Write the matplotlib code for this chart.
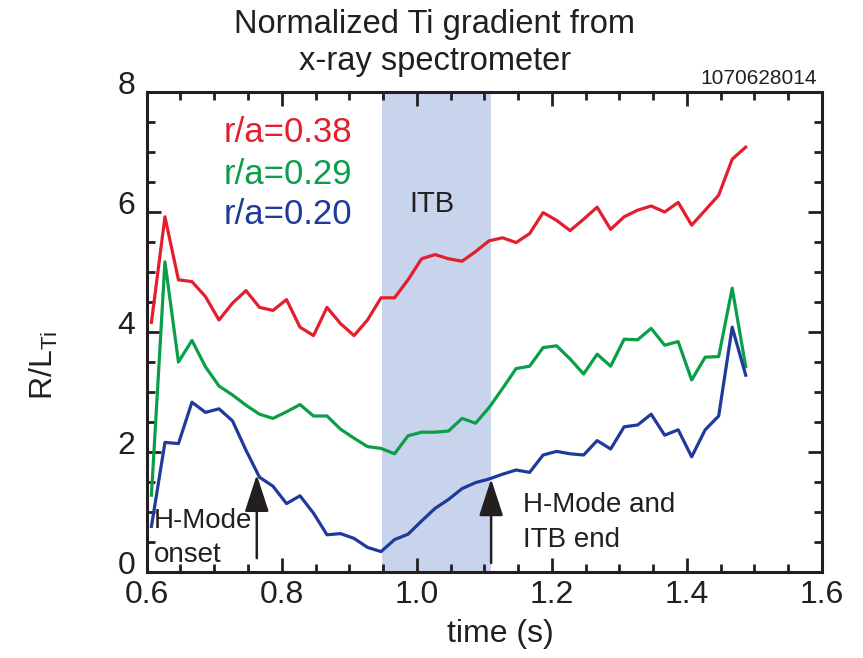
import matplotlib
matplotlib.use("Agg")
import matplotlib.pyplot as plt
from matplotlib.ticker import MultipleLocator, FormatStrFormatter
from matplotlib.transforms import ScaledTranslation

plt.rcParams['font.family'] = ['Liberation Sans', 'DejaVu Sans']
plt.rcParams['mathtext.fontset'] = 'custom'
plt.rcParams['mathtext.rm'] = 'Liberation Sans'

# time samples (s)
time = [0.607, 0.627, 0.647, 0.667, 0.687, 0.707, 0.727, 0.747, 0.767, 0.787,
        0.807, 0.827, 0.847, 0.867, 0.887, 0.907, 0.927, 0.947, 0.967, 0.987,
        1.007, 1.027, 1.047, 1.067, 1.087, 1.107, 1.127, 1.147, 1.167, 1.187,
        1.207, 1.227, 1.247, 1.267, 1.287, 1.307, 1.327, 1.347, 1.367, 1.387,
        1.407, 1.427, 1.447, 1.467, 1.487]

r038 = [4.16, 5.92, 4.87, 4.84, 4.59, 4.20, 4.48, 4.69, 4.41, 4.36,
        4.54, 4.08, 3.94, 4.41, 4.14, 3.94, 4.20, 4.57, 4.57, 4.87,
        5.22, 5.29, 5.22, 5.18, 5.34, 5.52, 5.57, 5.49, 5.64, 5.99,
        5.86, 5.69, 5.88, 6.08, 5.71, 5.92, 6.03, 6.10, 6.00, 6.16,
        5.78, 6.03, 6.28, 6.88, 7.08]

r029 = [1.28, 5.17, 3.50, 3.86, 3.42, 3.10, 2.95, 2.78, 2.63, 2.56,
        2.67, 2.79, 2.60, 2.60, 2.38, 2.23, 2.09, 2.06, 1.97, 2.27,
        2.33, 2.33, 2.35, 2.56, 2.48, 2.74, 3.06, 3.39, 3.43, 3.74,
        3.77, 3.55, 3.30, 3.63, 3.43, 3.88, 3.87, 4.06, 3.78, 3.84,
        3.20, 3.58, 3.59, 4.73, 3.42]

r020 = [0.76, 2.16, 2.14, 2.83, 2.66, 2.72, 2.52, 2.03, 1.58, 1.43,
        1.14, 1.27, 0.98, 0.62, 0.64, 0.56, 0.41, 0.34, 0.54, 0.63,
        0.85, 1.06, 1.21, 1.39, 1.49, 1.55, 1.63, 1.70, 1.66, 1.95,
        2.01, 1.97, 1.95, 2.19, 2.05, 2.42, 2.45, 2.63, 2.28, 2.37,
        1.92, 2.37, 2.60, 4.08, 3.28]

x_ticks = [0.6, 0.8, 1.0, 1.2, 1.4, 1.6]
y_ticks = [0, 2, 4, 6, 8]

itb_span = [0.948, 1.110]
arrow_times = [0.763, 1.110]
arrow_ranges = [(0.23, 1.62), (0.15, 1.55)]

red = '#E31E2D'
green = '#0A9E48'
blue = '#1F3A9A'
ink = '#231F20'

fig = plt.figure(figsize=(8.63, 6.58), dpi=100)
ax = fig.add_axes([0.170, 0.1307, 0.7825, 0.7295])

ax.axvspan(itb_span[0], itb_span[1], color='#C8D3EC', lw=0, zorder=0)
ax.plot(time, r038, color=red, lw=2.3, zorder=3)
ax.plot(time, r029, color=green, lw=2.3, zorder=3)
ax.plot(time, r020, color=blue, lw=2.3, zorder=3)

ax.set_xlim(0.6, 1.6)
ax.set_ylim(0, 8)
ax.set_xticks(x_ticks)
ax.set_yticks(y_ticks)
ax.xaxis.set_minor_locator(MultipleLocator(0.05))
ax.yaxis.set_minor_locator(MultipleLocator(0.5))
ax.xaxis.set_major_formatter(FormatStrFormatter('%.1f'))
ax.yaxis.set_major_formatter(FormatStrFormatter('%d'))
ax.tick_params(which='both', direction='in', top=True, right=True, width=2,
               color=ink, labelcolor=ink)
ax.tick_params(which='major', length=10, labelsize=23)
ax.tick_params(axis='x', which='major', pad=6)
ax.tick_params(axis='y', which='major', pad=8)
ax.tick_params(which='minor', length=6)
for s in ax.spines.values():
    s.set_linewidth(2.2)
    s.set_color(ink)

ax.set_xlabel('time (s)', fontsize=23, color=ink)
ax.xaxis.set_label_coords(0.523, -0.098)
ax.set_ylabel(r'R/L$_{\mathrm{Ti}}$', fontsize=23, color=ink)
ax.yaxis.set_label_coords(-0.128, 0.43)

fig.text(0.504, 0.9635, 'Normalized Ti gradient from', ha='center', va='center',
         fontsize=23.5, color=ink)
fig.text(0.504, 0.906, 'x-ray spectrometer', ha='center', va='center',
         fontsize=23.5, color=ink)
fig.text(0.947, 0.880, '1070628014', ha='right', va='center', fontsize=15, color=ink)

ax.text(0.904, 7.32, 'r/a=0.38', color=red, fontsize=25, ha='right', va='center')
ax.text(0.904, 6.63, 'r/a=0.29', color=green, fontsize=25, ha='right', va='center')
ax.text(0.904, 5.96, 'r/a=0.20', color=blue, fontsize=25, ha='right', va='center')
ax.text(1.0226, 6.13, 'ITB', fontsize=21, ha='center', va='center', color=ink)
ax.text(0.611, 0.73, 'H-Mode', fontsize=20, ha='left', va='baseline', color=ink)
ax.text(0.611, 0.17, 'onset', fontsize=20, ha='left', va='baseline', color=ink)
ax.text(1.157, 1.0, 'H-Mode and', fontsize=20, ha='left', va='baseline', color=ink)
ax.text(1.157, 0.42, 'ITB end', fontsize=20, ha='left', va='baseline', color=ink)

for t, (y0, y1) in zip(arrow_times, arrow_ranges):
    ax.annotate('', xy=(t, y1), xytext=(t, y0),
                arrowprops=dict(arrowstyle='-|>,head_length=2.3,head_width=0.75',
                                color=ink, lw=1.8, shrinkA=0, shrinkB=0), zorder=4)

# the reference's y tick labels sit slightly above their ticks
fig.canvas.draw()
for lab in ax.get_yticklabels():
    lab.set_transform(lab.get_transform() + ScaledTranslation(0, 0.095, fig.dpi_scale_trans))

fig.savefig('out.png', dpi=100)
